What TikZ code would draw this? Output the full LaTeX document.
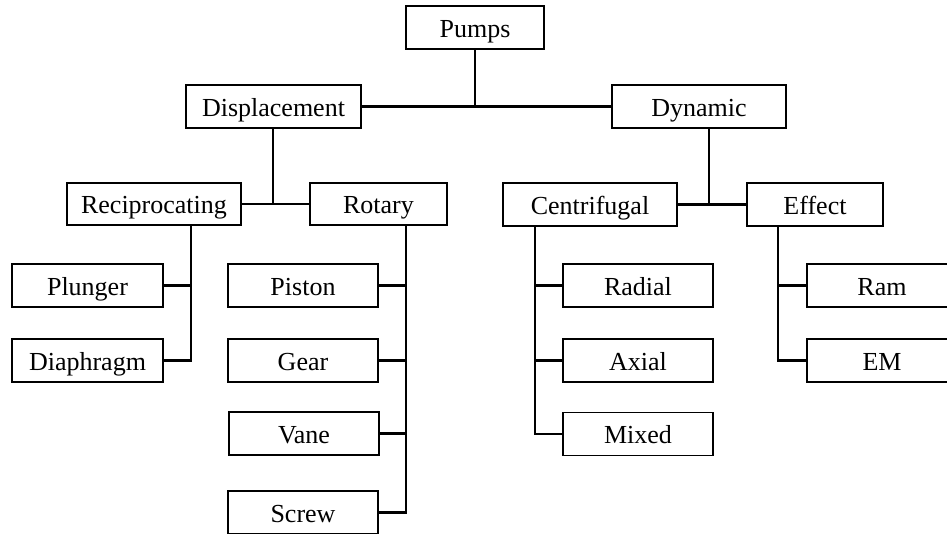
\documentclass[tikz,border=0pt]{standalone}
\usepackage{fontspec}
\setmainfont{Liberation Serif}
\begin{document}
\begin{tikzpicture}[x=1pt,y=-1pt,
  box/.style={draw=black,line width=1.3pt,rectangle,inner sep=0pt,
    text height=24pt,text depth=5pt,
    minimum height=43pt,font=\fontsize{26}{30}\selectfont,anchor=center},
  conn/.style={draw=black,line width=2.1pt}]
\clip (0,0) rectangle (947,533);
\fill[white] (0,0) rectangle (947,533);
% level 0-1
\node[box,minimum width=138pt] (pumps) at (475,27.5) {Pumps};
\node[box,minimum width=175pt] (disp) at (273.5,106.5) {Displacement};
\node[box,minimum width=174pt] (dyn) at (699,106.5) {Dynamic};
% level 2
\node[box,minimum width=174pt,minimum height=42pt] (recip) at (154,204) {Reciprocating};
\node[box,minimum width=137pt,minimum height=42pt] (rot) at (378.5,204) {Rotary};
\node[box,minimum width=174pt] (cent) at (590,204.5) {Centrifugal};
\node[box,minimum width=136pt] (eff) at (815,204.5) {Effect};
% leaves
\node[box,minimum width=151pt] (plunger) at (87.5,285.5) {Plunger};
\node[box,minimum width=151pt] (diaph) at (87.5,360.5) {Diaphragm};
\node[box,minimum width=150pt] (piston) at (303,285.5) {Piston};
\node[box,minimum width=150pt] (gear) at (303,360.5) {Gear};
\node[box,minimum width=150pt] (vane) at (304,433.5) {Vane};
\node[box,minimum width=150pt] (screw) at (303,512.5) {Screw};
\node[box,minimum width=150pt] (radial) at (638,285.5) {Radial};
\node[box,minimum width=150pt] (axial) at (638,360.5) {Axial};
\node[box,minimum width=150pt] (mixed) at (638,434) {Mixed};
\node[box,minimum width=150pt] (ram) at (882,285.5) {Ram};
\node[box,minimum width=150pt] (em) at (882,360.5) {EM};
% vertical trunk positions
\coordinate (vp) at (475,107);
\coordinate (vdisp) at (273,204);
\coordinate (vdyn) at (709,204);
\coordinate (vrec) at (191,0);
\coordinate (vrot) at (406,0);
\coordinate (vcen) at (535,0);
\coordinate (veff) at (778,0);
% connectors
\draw[conn] (pumps.south) -- (vp);
\draw[conn] (disp.east) -- (dyn.west);
\draw[conn] (vdisp |- disp.south) -- (vdisp);
\draw[conn] (recip.east) -- (rot.west);
\draw[conn] (vdyn |- dyn.south) -- (vdyn);
\draw[conn] (cent.east) -- (eff.west);
\draw[conn] (vrec |- recip.south) |- (diaph.east);
\draw[conn] (plunger.east) -- (vrec |- plunger.east);
\draw[conn] (vrot |- rot.south) |- (screw.east);
\draw[conn] (piston.east) -- (vrot |- piston.east);
\draw[conn] (gear.east) -- (vrot |- gear.east);
\draw[conn] (vane.east) -- (vrot |- vane.east);
\draw[conn] (vcen |- cent.south) |- (mixed.west);
\draw[conn] (radial.west) -- (vcen |- radial.west);
\draw[conn] (axial.west) -- (vcen |- axial.west);
\draw[conn] (veff |- eff.south) |- (em.west);
\draw[conn] (ram.west) -- (veff |- ram.west);
\end{tikzpicture}
\end{document}
